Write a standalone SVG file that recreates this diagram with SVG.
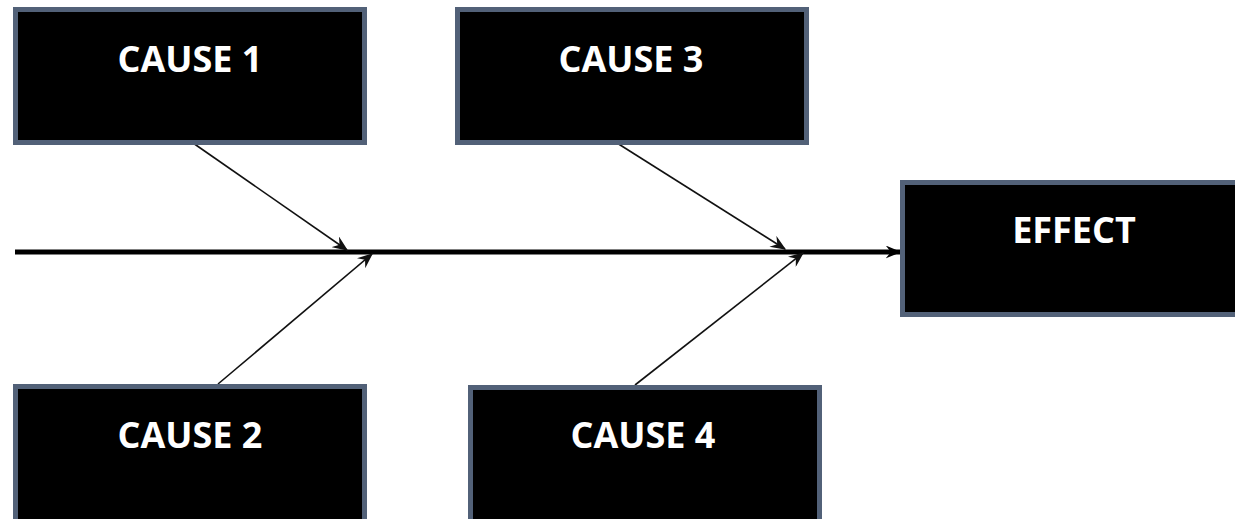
<svg xmlns="http://www.w3.org/2000/svg" width="1235" height="519" viewBox="0 0 1235 519">
<defs>
<style>
.box{fill:#000;stroke:#526178;stroke-width:5}
.lbl{fill:#fff;font-family:"Open Sans","Liberation Sans",sans-serif;font-weight:bold;font-size:36px;text-anchor:middle}
.bone{stroke:#111;stroke-width:1.6;fill:none;marker-end:url(#ah)}
.spine{stroke:#000;stroke-width:5;fill:none;marker-end:url(#ahs)}
</style>
<marker id="ah" viewBox="0 0 12 10" refX="11" refY="5" markerWidth="16" markerHeight="13" markerUnits="userSpaceOnUse" orient="auto">
<path d="M0,0 L12,5 L0,10 L4,5 Z" fill="#111"/>
</marker>
<marker id="ahs" viewBox="0 0 12 10" refX="11" refY="5" markerWidth="16" markerHeight="13" markerUnits="userSpaceOnUse" orient="auto">
<path d="M0,0 L12,5 L0,10 L4,5 Z" fill="#000"/>
</marker>
</defs>
<rect width="1235" height="519" fill="#fff"/>
<g id="connectors">
<line class="spine" x1="15" y1="252" x2="900" y2="252"/>
<line class="bone" x1="193" y1="143" x2="347" y2="250"/>
<line class="bone" x1="218" y1="384" x2="372" y2="254"/>
<line class="bone" x1="617" y1="143" x2="785" y2="249"/>
<line class="bone" x1="635" y1="385" x2="803" y2="253"/>
</g>
<g id="cause1">
<rect class="box" x="15.5" y="9.5" width="349" height="133"/>
<text class="lbl" x="190" y="72">CAUSE 1</text>
</g>
<g id="cause3">
<rect class="box" x="457.5" y="9.5" width="349" height="133"/>
<text class="lbl" x="631" y="72">CAUSE 3</text>
</g>
<g id="cause2">
<rect class="box" x="15.5" y="386.5" width="349" height="140"/>
<text class="lbl" x="190" y="448">CAUSE 2</text>
</g>
<g id="cause4">
<rect class="box" x="470.5" y="387.5" width="349" height="140"/>
<text class="lbl" x="643" y="448">CAUSE 4</text>
</g>
<g id="effect">
<rect class="box" x="902.5" y="182.5" width="349" height="132"/>
<text class="lbl" x="1074" y="243">EFFECT</text>
</g>
</svg>
